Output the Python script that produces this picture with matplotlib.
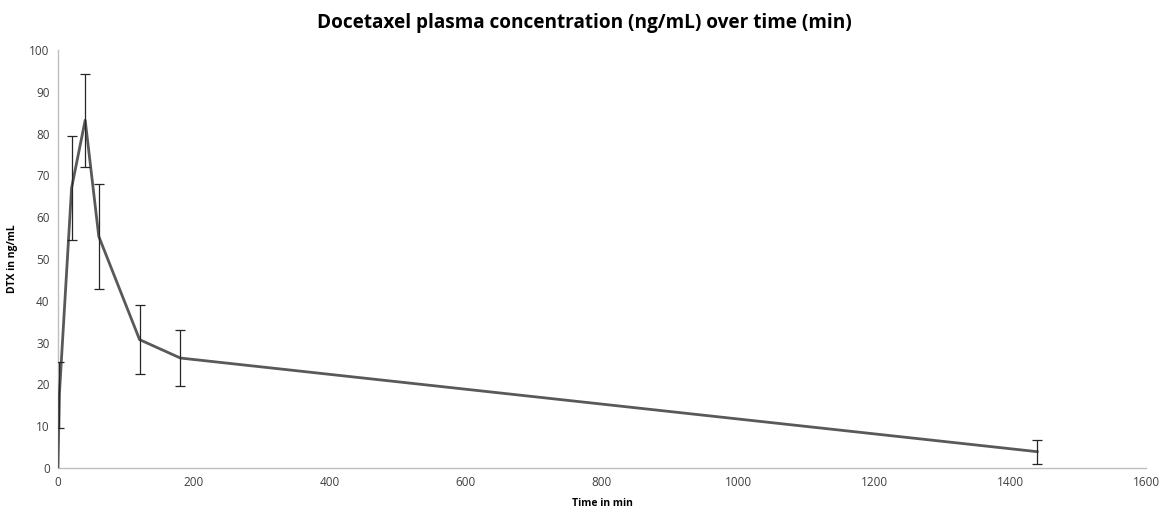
import matplotlib
matplotlib.use("Agg")
import matplotlib.pyplot as plt

time_min = [0, 2, 20, 40, 60, 120, 180, 1440]
dtx_ng_ml = [0, 17.5, 67.0, 83.2, 55.4, 30.7, 26.3, 3.9]
dtx_err = [0, 7.9, 12.4, 11.1, 12.5, 8.2, 6.7, 2.9]
x_ticks = [0, 200, 400, 600, 800, 1000, 1200, 1400, 1600]
y_ticks = [0, 10, 20, 30, 40, 50, 60, 70, 80, 90, 100]

plt.rcParams['font.family'] = ['Open Sans', 'DejaVu Sans']

fig = plt.figure(figsize=(11.62, 5.09), dpi=100)
ax = fig.add_axes([0.0499, 0.0806, 0.9363, 0.8212])

ax.plot(time_min, dtx_ng_ml, color='#595959', lw=2.0, zorder=3)
err_x = time_min[1:]
err_y = dtx_ng_ml[1:]
err_v = dtx_err[1:]
ax.errorbar(err_x, err_y, yerr=err_v, fmt='none', ecolor='#262626',
            elinewidth=0.9, capsize=3.5, capthick=0.9, zorder=4)

ax.set_xlim(0, 1600)
ax.set_ylim(0, 100)
ax.set_xticks(x_ticks)
ax.set_yticks(y_ticks)
ax.tick_params(axis='both', length=0, labelsize=8.5, labelcolor='#404040', pad=6)
for s in ['top', 'right']:
    ax.spines[s].set_visible(False)
for s in ['left', 'bottom']:
    ax.spines[s].set_color('#bfbfbf')
    ax.spines[s].set_linewidth(1.0)

ax.set_xlabel('Time in min', fontsize=7.5, fontweight='bold', color='#000000', labelpad=6)
ax.set_ylabel('DTX in ng/mL', fontsize=7.5, fontweight='bold', color='#000000', labelpad=8)
fig.text(0.503, 0.955, 'Docetaxel plasma concentration (ng/mL) over time (min)',
         ha='center', va='center', fontsize=13.7, fontweight='bold', color='#000000')

fig.savefig('out.png', dpi=100, facecolor='white')
